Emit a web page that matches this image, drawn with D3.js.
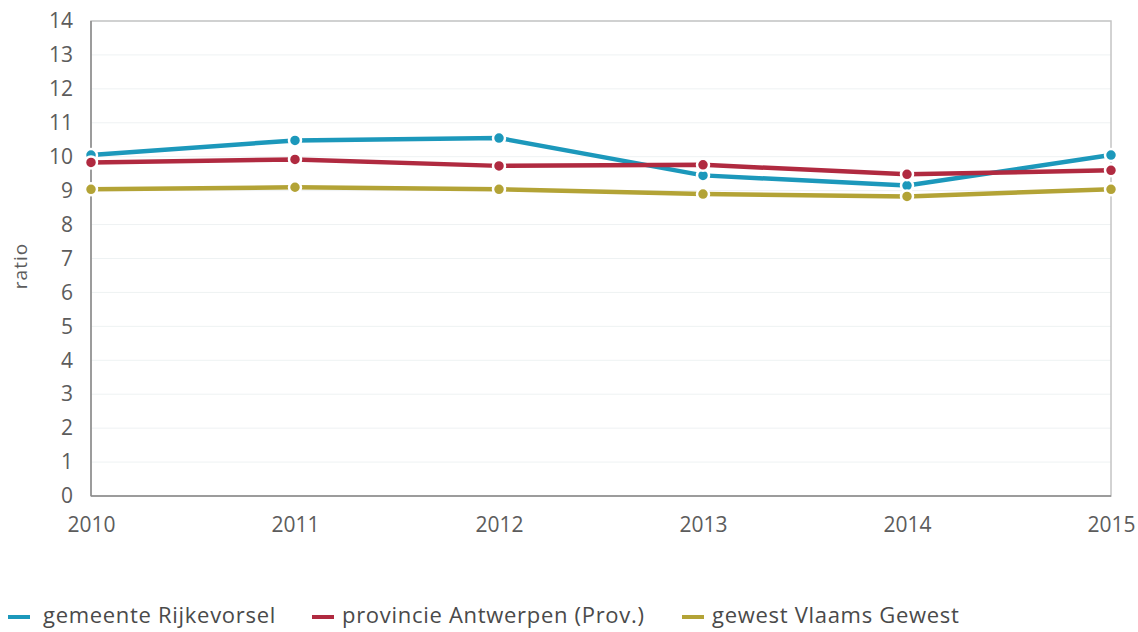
<!DOCTYPE html>
<html><head><meta charset="utf-8">
<script src="https://cdn.jsdelivr.net/npm/d3@7"></script>
<style>body{margin:0;background:#fff;}svg{display:block;font-family:"Open Sans",sans-serif;}</style>
</head><body><svg id="c" width="1138" height="632"></svg>
<script>
const years = [2010, 2011, 2012, 2013, 2014, 2015];
const seriesNames = ["gemeente Rijkevorsel", "provincie Antwerpen (Prov.)", "gewest Vlaams Gewest"];
const rijkevorsel = [10.05, 10.48, 10.55, 9.45, 9.15, 10.05];
const antwerpen = [9.83, 9.92, 9.73, 9.76, 9.48, 9.6];
const vlaams = [9.04, 9.1, 9.04, 8.9, 8.83, 9.04];
const yTicks = [0,1,2,3,4,5,6,7,8,9,10,11,12,13,14];
const colors = ["#1c98bb", "#b02a40", "#b3a336"];
const allSeries = [rijkevorsel, antwerpen, vlaams];

const svg = d3.select("#c");
const L = 91, R = 1111, T = 21, B = 496;
const x = d3.scalePoint().domain(years).range([L, R]);
const y = d3.scaleLinear().domain([0, 14]).range([B, T]);

// grid
svg.append("g").selectAll("line").data(yTicks.slice(1)).join("line")
  .attr("x1", L).attr("x2", R).attr("y1", d => y(d)).attr("y2", d => y(d))
  .attr("stroke", "#eef2f3").attr("stroke-width", 1);

// frame
svg.append("rect").attr("x", L).attr("y", T).attr("width", R - L).attr("height", B - T)
  .attr("fill", "none").attr("stroke", "#c4c4c4").attr("stroke-width", 1.5);
svg.append("line").attr("x1", L).attr("x2", L).attr("y1", T).attr("y2", B).attr("stroke", "#8a8a8a").attr("stroke-width", 1.5);
svg.append("line").attr("x1", L).attr("x2", R).attr("y1", B).attr("y2", B).attr("stroke", "#8a8a8a").attr("stroke-width", 1.5);

// y axis
const ya = svg.append("g").attr("transform", `translate(${L},0)`)
  .call(d3.axisLeft(y).tickValues(yTicks).tickSize(0).tickPadding(18));
ya.select(".domain").remove();
ya.selectAll("text").attr("font-size", 21).attr("fill", "#5c5c5c").attr("font-family", "Open Sans, sans-serif");

// x axis
const xa = svg.append("g").attr("transform", `translate(0,${B})`)
  .call(d3.axisBottom(x).tickSize(0).tickPadding(21).tickFormat(d3.format("d")));
xa.select(".domain").remove();
xa.selectAll("text").attr("font-size", 21).attr("fill", "#5c5c5c").attr("font-family", "Open Sans, sans-serif");

svg.append("text").attr("transform", `translate(27,266) rotate(-90)`)
  .attr("text-anchor", "middle").attr("font-size", 19).attr("letter-spacing", 1).attr("fill", "#5c5c5c").text("ratio");

// lines
const line = d3.line().x((d, i) => x(years[i])).y(d => y(d));
allSeries.forEach((s, k) => {
  svg.append("path").datum(s).attr("d", line).attr("fill", "none")
    .attr("stroke", colors[k]).attr("stroke-width", 4.5).attr("stroke-linejoin", "round");
});
allSeries.forEach((s, k) => {
  svg.append("g").selectAll("circle").data(s).join("circle")
    .attr("cx", (d, i) => x(years[i])).attr("cy", d => y(d)).attr("r", 6)
    .attr("fill", colors[k]).attr("stroke", "#fff").attr("stroke-width", 2.5);
});

// legend
const legX = [8, 312, 682];
const legTextX = [43, 342, 712];
const lg = svg.append("g");
seriesNames.forEach((n, k) => {
  lg.append("line").attr("x1", legX[k]).attr("x2", legX[k] + 22).attr("y1", 617).attr("y2", 617)
    .attr("stroke", colors[k]).attr("stroke-width", 4);
  lg.append("text").attr("x", legTextX[k]).attr("y", 623).attr("font-size", 22)
    .attr("letter-spacing", 0.7).attr("fill", "#4a4a4a").text(n);
});
</script></body></html>
